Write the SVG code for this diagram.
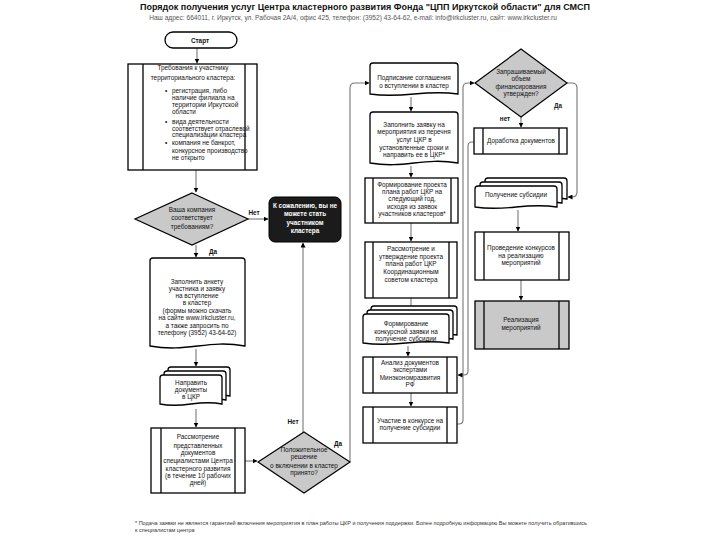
<svg xmlns="http://www.w3.org/2000/svg" xmlns:xlink="http://www.w3.org/1999/xlink" width="720" height="540" viewBox="0 0 720 540">
<style>
text{font-family:"Liberation Sans",Arial,sans-serif;fill:#111;}
.t{font-size:6.4px;text-anchor:middle;}
.tl{font-size:6.4px;}
.lbl{font-size:6.4px;font-weight:bold;text-anchor:middle;}
.w{fill:#fff;font-weight:bold;}
.box{fill:#fff;stroke:#000;stroke-width:1.3;}
.gray{fill:#c9c9c9;stroke:#000;stroke-width:1.3;}
.in{stroke:#000;stroke-width:1.3;}
.dec{fill:#c9c9c9;stroke:#000;stroke-width:1.2;}
.con{fill:none;stroke:#777;stroke-width:1.1;}
</style>
<defs>
<marker id="ah" viewBox="0 0 10 10" refX="9" refY="5" markerWidth="5" markerHeight="5" orient="auto" markerUnits="userSpaceOnUse">
<path d="M0,0 L10,5 L0,10 Z" fill="#000"/>
</marker>
<path id="mdL" d="M160,404 V378 Q160,375 163,375 H219 Q222,375 222,378 V404 C197,399 185,409 160,404 Z"/>
<path id="mdM" d="M363,343 V317 Q363,314 366,314 H446 Q449,314 449,317 V343 C414,338 398,348 363,343 Z"/>
<path id="mdR" d="M475,207 V189 Q475,186 478,186 H554 Q557,186 557,189 V207 C524,202 508,212 475,207 Z"/>
</defs>
<rect width="720" height="540" fill="#fff"/>
<text x="365" y="10" style="font-size:9px;font-weight:bold;text-anchor:middle;">Порядок получения услуг Центра кластерного развития Фонда "ЦПП Иркутской области" для СМСП</text>
<text x="353" y="20" style="font-size:6.6px;text-anchor:middle;fill:#555;">Наш адрес: 664011, г. Иркутск, ул. Рабочая 2А/4, офис 425, телефон: (3952) 43-64-62, e-mail: info@irkcluster.ru, сайт: www.irkcluster.ru</text>

<g id="connectors">
<path class="con" d="M197,48 V63" marker-end="url(#ah)"/>
<path class="con" d="M196,170 V192" marker-end="url(#ah)"/>
<path class="con" d="M248,219 H268" marker-end="url(#ah)"/>
<path class="con" d="M196,245 V257" marker-end="url(#ah)"/>
<path class="con" d="M196,349 V366" marker-end="url(#ah)"/>
<path class="con" d="M196,409 V427" marker-end="url(#ah)"/>
<path class="con" d="M245,461 H257" marker-end="url(#ah)"/>
<path class="con" d="M303,432 V243" marker-end="url(#ah)"/>
<path class="con" d="M350,462 V88 Q350,83 355,83 H369" marker-end="url(#ah)"/>
<path class="con" d="M411,97 V111" marker-end="url(#ah)"/>
<path class="con" d="M411,166 V177" marker-end="url(#ah)"/>
<path class="con" d="M411,223 V241" marker-end="url(#ah)"/>
<path class="con" d="M411,298 V311" marker-end="url(#ah)"/>
<path class="con" d="M408,346 V356" marker-end="url(#ah)"/>
<path class="con" d="M411,393 V406" marker-end="url(#ah)"/>
<path class="con" d="M457,424 H459 Q463,424 463,420 V88 Q463,83 468,83 H474" marker-end="url(#ah)"/>
<path class="con" d="M474,142 H472 Q468,142 468,146 V371 Q468,375 464,375 H458" marker-end="url(#ah)"/>
<path class="con" d="M521,117 V127" marker-end="url(#ah)"/>
<path class="con" d="M567,83 H572 Q577,83 577,88 V192 Q577,197 572,197 H568" marker-end="url(#ah)"/>
<path class="con" d="M518,210 V231" marker-end="url(#ah)"/>
<path class="con" d="M521,280 V300" marker-end="url(#ah)"/>
</g>

<g id="start">
<rect class="box" x="165" y="32" width="72" height="16" rx="8"/>
<text class="lbl" x="200" y="42.5" style="font-weight:bold;">Старт</text>
</g>

<g id="requirements">
<rect class="box" x="128" y="64" width="129" height="106"/>
<line class="in" x1="143" y1="64" x2="143" y2="170"/>
<line class="in" x1="245" y1="64" x2="245" y2="170"/>
<text class="t" x="193" y="70">Требования к участнику</text>
<text class="t" x="193" y="80">территориального кластера:</text>
<text class="tl" x="165" y="93">•</text>
<text class="tl" x="172" y="93">регистрация, либо</text>
<text class="tl" x="172" y="100">наличие филиала на</text>
<text class="tl" x="172" y="107">территории Иркутской</text>
<text class="tl" x="172" y="114">области</text>
<text class="tl" x="165" y="124">•</text>
<text class="tl" x="172" y="124">вида деятельности</text>
<text class="tl" x="172" y="130.5">соответствует отраслевой</text>
<text class="tl" x="172" y="137">специализации кластера</text>
<text class="tl" x="165" y="145">•</text>
<text class="tl" x="172" y="145">компания не банкрот,</text>
<text class="tl" x="172" y="153">конкурсное производство</text>
<text class="tl" x="172" y="160">не открыто</text>
</g>

<g id="decision1">
<path class="dec" d="M192,193 L248,219 L192,245 L135,219 Z"/>
<text class="t" x="192" y="212">Ваша компания</text>
<text class="t" x="192" y="220">соответствует</text>
<text class="t" x="192" y="229">требованиям?</text>
<text class="lbl" x="254" y="215">Нет</text>
<text class="lbl" x="213" y="254">Да</text>
</g>

<g id="rejected">
<rect x="269" y="197" width="72" height="45" rx="6" fill="#1b1b1b" stroke="#000"/>
<text class="t w" x="305" y="208">К сожалению, вы не</text>
<text class="t w" x="305" y="216">можете стать</text>
<text class="t w" x="305" y="225">участником</text>
<text class="t w" x="305" y="233">кластера</text>
</g>

<g id="application-form">
<path class="box" d="M150,346 V261 Q150,258 153,258 H242 Q245,258 245,261 V346 C207,339 188,353 150,346 Z"/>
<text class="t" x="197" y="284">Заполнить анкету</text>
<text class="t" x="197" y="291">участника и заявку</text>
<text class="t" x="197" y="298">на вступление</text>
<text class="t" x="197" y="305">в кластер</text>
<text class="t" x="197" y="313">(формы можно скачать</text>
<text class="t" x="197" y="320">на сайте www.irkcluster.ru,</text>
<text class="t" x="197" y="328">а также запросить по</text>
<text class="t" x="197" y="335">телефону (3952) 43-64-62)</text>
</g>

<g id="send-documents">
<use xlink:href="#mdL" class="box" x="8" y="-8"/>
<use xlink:href="#mdL" class="box" x="4" y="-4"/>
<use xlink:href="#mdL" class="box"/>
<text class="t" x="191" y="385">Направить</text>
<text class="t" x="191" y="392">документы</text>
<text class="t" x="191" y="399">в ЦКР</text>
</g>

<g id="review">
<rect class="box" x="151" y="428" width="94" height="65"/>
<line class="in" x1="161" y1="428" x2="161" y2="493"/>
<line class="in" x1="235" y1="428" x2="235" y2="493"/>
<text class="t" x="198" y="439">Рассмотрение</text>
<text class="t" x="198" y="448">представленных</text>
<text class="t" x="198" y="455">документов</text>
<text class="t" x="198" y="463">специалистами Центра</text>
<text class="t" x="198" y="471">кластерного развития</text>
<text class="t" x="198" y="478">(в течение 10 рабочих</text>
<text class="t" x="198" y="485">дней)</text>
</g>

<g id="decision2">
<path class="dec" d="M304,432 L350,462 L304,493 L258,462 Z"/>
<text class="t" x="304" y="452">Положительное</text>
<text class="t" x="304" y="459">решение</text>
<text class="t" x="304" y="468">о включении в кластер</text>
<text class="t" x="304" y="475">принято?</text>
<text class="lbl" x="293" y="424">Нет</text>
<text class="lbl" x="338" y="446">Да</text>
</g>

<g id="agreement">
<path class="box" d="M370,94 V66 Q370,63 373,63 H455 Q458,63 458,66 V94 C423,89 405,99 370,94 Z"/>
<text class="t" x="414" y="80">Подписание соглашения</text>
<text class="t" x="414" y="88">о вступлении в кластер</text>
</g>

<g id="event-request">
<path class="box" d="M370,163 V115 Q370,112 373,112 H455 Q458,112 458,115 V163 C423,157 405,169 370,163 Z"/>
<text class="t" x="414" y="127">Заполнить заявку на</text>
<text class="t" x="414" y="134">мероприятия из перечня</text>
<text class="t" x="414" y="142">услуг ЦКР в</text>
<text class="t" x="414" y="150">установленные сроки и</text>
<text class="t" x="414" y="157">направить ее в ЦКР*</text>
</g>

<g id="plan-draft">
<rect class="box" x="365" y="178" width="93" height="45"/>
<line class="in" x1="373" y1="178" x2="373" y2="223"/>
<line class="in" x1="451" y1="178" x2="451" y2="223"/>
<text class="t" x="412" y="187">Формирование проекта</text>
<text class="t" x="412" y="194">плана работ ЦКР на</text>
<text class="t" x="412" y="201">следующий год,</text>
<text class="t" x="412" y="209">исходя из заявок</text>
<text class="t" x="412" y="216">участников кластеров*</text>
</g>

<g id="plan-approval">
<rect class="box" x="365" y="242" width="92" height="56"/>
<line class="in" x1="373" y1="242" x2="373" y2="298"/>
<line class="in" x1="449" y1="242" x2="449" y2="298"/>
<text class="t" x="411" y="251">Рассмотрение и</text>
<text class="t" x="411" y="259">утверждение проекта</text>
<text class="t" x="411" y="266">плана работ ЦКР</text>
<text class="t" x="411" y="274">Координационным</text>
<text class="t" x="411" y="282">советом кластера</text>
</g>

<g id="contest-application">
<use xlink:href="#mdM" class="box" x="8" y="-8"/>
<use xlink:href="#mdM" class="box" x="4" y="-4"/>
<use xlink:href="#mdM" class="box"/>
<text class="t" x="406" y="326">Формирование</text>
<text class="t" x="406" y="334">конкурсной заявки на</text>
<text class="t" x="406" y="341">получение субсидии</text>
</g>

<g id="expert-analysis">
<rect class="box" x="363" y="357" width="94" height="36"/>
<line class="in" x1="373" y1="357" x2="373" y2="393"/>
<line class="in" x1="447" y1="357" x2="447" y2="393"/>
<text class="t" x="410" y="365">Анализ документов</text>
<text class="t" x="410" y="372">экспертами</text>
<text class="t" x="410" y="380">Минэкономразвития</text>
<text class="t" x="410" y="387">РФ</text>
</g>

<g id="contest">
<rect class="box" x="363" y="407" width="94" height="36"/>
<line class="in" x1="373" y1="407" x2="373" y2="443"/>
<line class="in" x1="447" y1="407" x2="447" y2="443"/>
<text class="t" x="410" y="423">Участие в конкурсе на</text>
<text class="t" x="410" y="430">получение субсидии</text>
</g>

<g id="decision3">
<path class="dec" d="M521,49 L567,83 L521,117 L475,83 Z"/>
<text class="t" x="521" y="74">Запрашиваемый</text>
<text class="t" x="521" y="81">объем</text>
<text class="t" x="521" y="89">финансирования</text>
<text class="t" x="521" y="96">утвержден?</text>
<text class="lbl" x="558" y="108" style="fill:#223;">Да</text>
<text class="lbl" x="505" y="121">нет</text>
</g>

<g id="rework">
<rect class="box" x="474" y="128" width="93" height="26"/>
<line class="in" x1="483" y1="128" x2="483" y2="154"/>
<line class="in" x1="559" y1="128" x2="559" y2="154"/>
<text class="t" x="521" y="143">Доработка документов</text>
</g>

<g id="subsidy">
<use xlink:href="#mdR" class="box" x="10" y="-8"/>
<use xlink:href="#mdR" class="box" x="5" y="-4"/>
<use xlink:href="#mdR" class="box"/>
<text class="t" x="516" y="197">Получение субсидии</text>
</g>

<g id="tenders">
<rect class="box" x="475" y="232" width="94" height="48"/>
<line class="in" x1="484" y1="232" x2="484" y2="280"/>
<line class="in" x1="559" y1="232" x2="559" y2="280"/>
<text class="t" x="521" y="250">Проведение конкурсов</text>
<text class="t" x="521" y="258">на реализацию</text>
<text class="t" x="521" y="265">мероприятий</text>
</g>

<g id="implementation">
<rect class="gray" x="475" y="301" width="94" height="48"/>
<line class="in" x1="484" y1="301" x2="484" y2="349"/>
<line class="in" x1="559" y1="301" x2="559" y2="349"/>
<text class="t" x="521" y="322">Реализация</text>
<text class="t" x="521" y="330">мероприятий</text>
</g>

<text x="135" y="525" style="font-size:5.5px;fill:#333;">* Подача заявки не является гарантией включения мероприятия в план работы ЦКР и получения поддержки. Более подробную информацию Вы можете получить обратившись</text>
<text x="135" y="531.5" style="font-size:5.5px;fill:#333;">к специалистам центра</text>
</svg>
